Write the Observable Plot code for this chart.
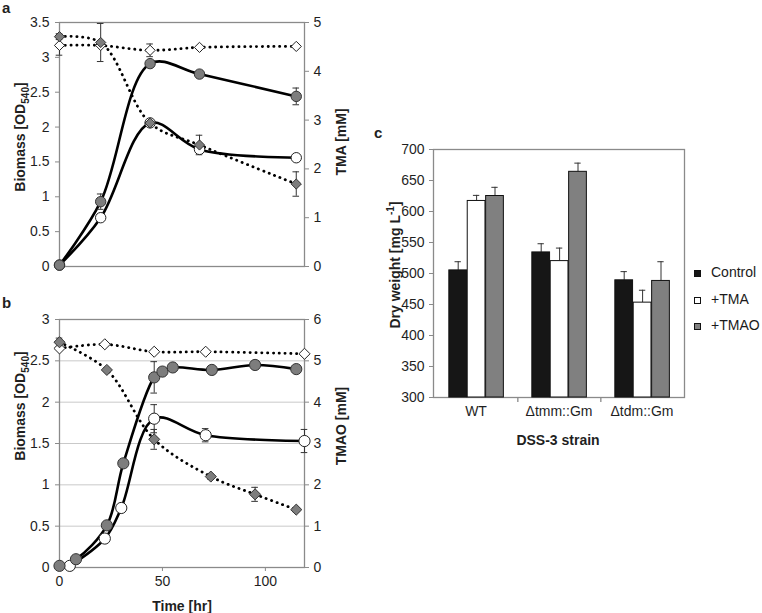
<!DOCTYPE html>
<html><head><meta charset="utf-8">
<script src="https://cdn.jsdelivr.net/npm/d3@7"></script>
<script src="https://cdn.jsdelivr.net/npm/@observablehq/plot@0.6"></script>
<style>
body{margin:0;background:#fff;}
#fig{position:relative;width:762px;height:613px;background:#fff;font-family:"Liberation Sans",Arial,sans-serif;overflow:hidden;}
#fig svg{position:absolute;overflow:visible;}
.leg{position:absolute;font-size:14px;color:#1a1a1a;white-space:nowrap;}
.sw{position:absolute;width:7px;height:7px;border:1px solid #111;box-sizing:border-box;}
</style></head><body><div id="fig"></div>
<script>
// ---------- Panel a (TMA) ----------
const timeA = [0, 20, 44, 68, 115];
const odTMA_A = [0.02, 0.93, 2.91, 2.76, 2.44];        // grey circles, biomass OD540
const odTMA_A_err = [0, 0.11, 0, 0, 0.12];
const odCtl_A = [0.02, 0.70, 2.06, 1.68, 1.56];        // open circles
const odCtl_A_err = [0, 0, 0, 0.04, 0];
const tmaCult_A = [4.71, 4.59, 2.94, 2.49, 1.69];      // grey diamonds, TMA mM
const tmaCult_A_err = [0.06, 0.39, 0, 0.20, 0.25];
const tmaAbio_A = [4.53, 4.53, 4.43, 4.49, 4.51];      // open diamonds
const tmaAbio_A_err = [0.2, 0, 0.13, 0, 0];

// ---------- Panel b (TMAO) ----------
const timeB_odTMAO = [0, 8, 23, 31, 46, 50, 55, 74, 95, 115];
const odTMAO_B = [0.02, 0.10, 0.51, 1.26, 2.30, 2.37, 2.42, 2.39, 2.45, 2.40];
const odTMAO_B_err = [0, 0, 0, 0, 0.19, 0.05, 0, 0, 0, 0];
const timeB_odCtl = [5, 22, 30, 46, 71, 119];
const odCtl_B = [0.02, 0.35, 0.72, 1.80, 1.60, 1.53];
const odCtl_B_err = [0, 0, 0, 0.17, 0.08, 0.14];
const timeB_tmaoCult = [0, 23, 46, 73.5, 95, 115];
const tmaoCult_B = [5.45, 4.78, 3.10, 2.20, 1.77, 1.40];
const tmaoCult_B_err = [0.1, 0, 0.24, 0.06, 0.17, 0.05];
const timeB_tmaoAbio = [0, 22, 46, 71, 119];
const tmaoAbio_B = [5.30, 5.40, 5.22, 5.22, 5.17];

// ---------- Panel c (dry weight) ----------
const strains = ["WT", "\u0394tmm::Gm", "\u0394tdm::Gm"];
const treatments = ["Control", "+TMA", "+TMAO"];
const dryControl = [505, 534, 489];
const dryTMA = [617, 520, 453];
const dryTMAO = [625, 664, 488];
const errControl = [14, 14, 14];
const errTMA = [9, 21, 20];
const errTMAO = [14, 14, 31];

// ---------- helpers ----------
const FONT = '"Liberation Sans", Arial, sans-serif';
const GREY = "#7d7d7d", AXIS = "#8a8a8a", INK = "#1f1f1f";
const rows = (ts, vs, es) => ts.map((t, i) => ({t, v: vs[i], e: es ? es[i] : 0}));
const fig = document.getElementById("fig");
const style = {fontFamily: FONT, fontSize: "14px", color: INK, background: "transparent", overflow: "visible"};

function place(svg, left, top) { svg.style.left = left + "px"; svg.style.top = top + "px"; fig.appendChild(svg); return svg; }

function addLabel(svg, {x, y, rotate = false, size = 14, weight = "bold", anchor = "middle", parts}) {
  const t = d3.select(svg).append("text")
    .attr("transform", `translate(${x},${y})` + (rotate ? " rotate(-90)" : ""))
    .attr("text-anchor", anchor).attr("font-size", size).attr("font-weight", weight)
    .attr("font-family", FONT).attr("fill", INK);
  let cur = 0;
  for (const p of parts) {
    const [str, kind] = Array.isArray(p) ? p : [p, null];
    const target = kind === "sub" ? size * 0.3 : kind === "sup" ? -size * 0.4 : 0;
    const s = t.append("tspan").text(str).attr("dy", target - cur);
    if (kind) s.attr("font-size", size * 0.72);
    cur = target;
  }
}

function errMarks(data, k = 1, cap = 1.6) {
  const d = data.filter(r => r.e > 0);
  return [
    Plot.ruleX(d, {x: "t", y1: r => (r.v - r.e) * k, y2: r => (r.v + r.e) * k, stroke: "#333", strokeWidth: 1}),
    Plot.ruleY(d, {y: r => (r.v + r.e) * k, x1: r => r.t - cap, x2: r => r.t + cap, stroke: "#333", strokeWidth: 1}),
    Plot.ruleY(d, {y: r => (r.v - r.e) * k, x1: r => r.t - cap, x2: r => r.t + cap, stroke: "#333", strokeWidth: 1})
  ];
}

function timePanel({height, mTop, mBottom, yMax, rMax, xAxis, grid, circG, circO, diaG, diaO, rC, rD}) {
  const k = yMax / rMax;
  const curve = "catmull-rom";
  const dotted = {stroke: "#000", strokeWidth: 2.8, strokeDasharray: "0.2,5.6", strokeLinecap: "round"};
  return Plot.plot({
    width: 380, height, marginLeft: 59, marginRight: 76, marginTop: mTop, marginBottom: mBottom,
    style,
    x: {domain: [0, 119], axis: null},
    y: {domain: [0, yMax], axis: null},
    marks: [
      grid ? Plot.gridY(d3.range(0.5, yMax, 0.5), {stroke: "#c9c9c9", strokeOpacity: 1, strokeWidth: 1}) : null,
      Plot.frame({stroke: AXIS, strokeWidth: 1.3}),
      Plot.axisY(d3.range(0, yMax + 0.01, 0.5), {anchor: "left", tickSize: 4, tickPadding: 6, stroke: AXIS, fill: INK, tickFormat: d => String(d), label: null}),
      Plot.axisY(d3.range(0, rMax + 1).map(v => v * k), {anchor: "right", tickSize: 4, tickPadding: 5, stroke: AXIS, fill: INK, tickFormat: d => String(Math.round(d / k)), label: null}),
      xAxis ? Plot.axisX([0, 50, 100], {anchor: "bottom", tickSize: 4, tickPadding: 5, stroke: AXIS, fill: INK, label: null}) : null,
      Plot.line(diaO, {x: "t", y: r => r.v * k, curve, ...dotted}),
      Plot.line(diaG, {x: "t", y: r => r.v * k, curve, ...dotted}),
      Plot.line(circO, {x: "t", y: "v", curve, stroke: "#000", strokeWidth: 2.6}),
      Plot.line(circG, {x: "t", y: "v", curve, stroke: "#000", strokeWidth: 2.6}),
      ...errMarks(circO), ...errMarks(circG), ...errMarks(diaO, k), ...errMarks(diaG, k),
      Plot.dot(circO, {x: "t", y: "v", r: rC, fill: "#fff", stroke: "#222", strokeWidth: 1}),
      Plot.dot(circG, {x: "t", y: "v", r: rC, fill: GREY, stroke: "#333", strokeWidth: 1}),
      Plot.dot(diaO, {x: "t", y: r => r.v * k, symbol: "diamond2", r: rD, fill: "#fff", stroke: "#222", strokeWidth: 1}),
      Plot.dot(diaG, {x: "t", y: r => r.v * k, symbol: "diamond2", r: rD, fill: GREY, stroke: "#333", strokeWidth: 1})
    ]
  });
}

// ---------- Panel a ----------
const svgA = place(timePanel({
  height: 290, mTop: 22, mBottom: 24, yMax: 3.5, rMax: 5, xAxis: false, grid: false,
  circG: rows(timeA, odTMA_A, odTMA_A_err), circO: rows(timeA, odCtl_A, odCtl_A_err),
  diaG: rows(timeA, tmaCult_A, tmaCult_A_err), diaO: rows(timeA, tmaAbio_A, tmaAbio_A_err),
  rC: 5.2, rD: 4.6
}), 0, 0);
addLabel(svgA, {x: 25, y: 137, rotate: true, parts: ["Biomass [OD", ["540", "sub"], "]"]});
addLabel(svgA, {x: 346, y: 142, rotate: true, parts: ["TMA [mM]"]});
addLabel(svgA, {x: 2, y: 13, anchor: "start", size: 15, parts: ["a"]});

// ---------- Panel b ----------
const svgB = place(timePanel({
  height: 323, mTop: 29, mBottom: 46, yMax: 3, rMax: 6, xAxis: true, grid: true,
  circG: rows(timeB_odTMAO, odTMAO_B, odTMAO_B_err), circO: rows(timeB_odCtl, odCtl_B, odCtl_B_err),
  diaG: rows(timeB_tmaoCult, tmaoCult_B, tmaoCult_B_err), diaO: rows(timeB_tmaoAbio, tmaoAbio_B),
  rC: 5.6, rD: 5.0
}), 0, 290);
addLabel(svgB, {x: 25, y: 116, rotate: true, parts: ["Biomass [OD", ["540", "sub"], "]"]});
addLabel(svgB, {x: 346, y: 136, rotate: true, parts: ["TMAO [mM]"]});
addLabel(svgB, {x: 182, y: 321, parts: ["Time [hr]"]});
addLabel(svgB, {x: 2, y: 18, anchor: "start", size: 15, parts: ["b"]});

// ---------- Panel c ----------
const cW = 382, cML = 53, cMR = 78;
const step = (cW - cML - cMR) / 3, bw = 18.4, off = (step - 3 * bw) / 2 + 0.6;
const cSeries = [
  {vals: dryControl, errs: errControl, fill: "#161616"},
  {vals: dryTMA, errs: errTMA, fill: "#ffffff"},
  {vals: dryTMAO, errs: errTMAO, fill: "#808080"}
];
const svgC = place(Plot.plot({
  width: cW, height: 320, marginLeft: cML, marginRight: cMR, marginTop: 19, marginBottom: 53,
  style,
  x: {domain: strains, padding: 0, axis: null},
  y: {domain: [300, 700], axis: null},
  marks: [
    Plot.frame({stroke: AXIS, strokeWidth: 1.3}),
    Plot.axisY(d3.range(300, 701, 50), {anchor: "left", tickSize: 4, tickPadding: 5, stroke: AXIS, fill: INK, label: null}),
    Plot.axisX(strains, {anchor: "bottom", tickSize: 0, tickPadding: 9, fill: INK, label: null}),
    Plot.ruleX(strains.slice(0, 2), {x: d => d, dx: step / 2, y1: 300, y2: 292, stroke: AXIS, strokeWidth: 1.3}),
    ...cSeries.flatMap((s, i) => {
      const data = strains.map((st, j) => ({strain: st, v: s.vals[j], e: s.errs[j]}));
      const left = off + i * bw, right = step - left - bw, c = left + bw / 2;
      return [
        Plot.ruleX(data, {x: "strain", y1: "v", y2: d => d.v + d.e, dx: c - step / 2, stroke: "#333", strokeWidth: 1}),
        Plot.tickY(data, {x: "strain", y: d => d.v + d.e, insetLeft: c - 3.5, insetRight: step - c - 3.5, stroke: "#333", strokeWidth: 1}),
        Plot.barY(data, {x: "strain", y1: 300, y2: "v", insetLeft: left, insetRight: right, fill: s.fill, stroke: "#111", strokeWidth: 1})
      ];
    })
  ]
}), 380, 130);
addLabel(svgC, {x: 20, y: 135, rotate: true, parts: ["Dry weight [mg L", ["-1", "sup"], "]"]});
addLabel(svgC, {x: 178, y: 315, parts: ["DSS-3 strain"]});
addLabel(svgC, {x: -6, y: 8, anchor: "start", size: 15, parts: ["c"]});

// legend
const legFills = ["#161616", "#ffffff", "#808080"];
const legY = [273, 300, 326];
treatments.forEach((name, i) => {
  const sw = document.createElement("div");
  sw.className = "sw"; sw.style.left = "694px"; sw.style.top = (legY[i] - 3.5) + "px"; sw.style.background = legFills[i];
  fig.appendChild(sw);
  const tx = document.createElement("div");
  tx.className = "leg"; tx.textContent = name; tx.style.left = "711px"; tx.style.top = (legY[i] - 9) + "px";
  fig.appendChild(tx);
});
</script></body></html>
